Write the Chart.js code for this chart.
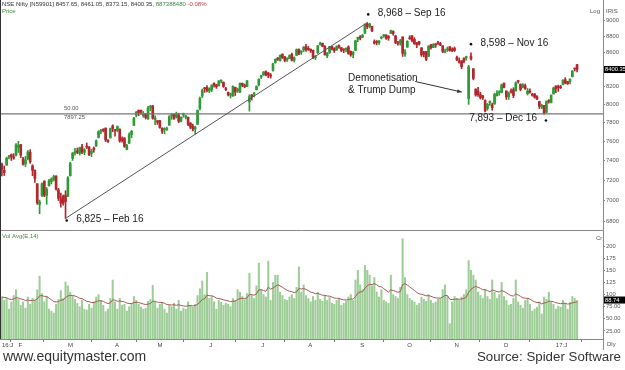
<!DOCTYPE html>
<html>
<head>
<meta charset="utf-8">
<script src="https://cdn.jsdelivr.net/npm/chart.js@4.4.1/dist/chart.umd.min.js"></script>
<style>
  html, body { margin: 0; padding: 0; background: #fff; }
  #wrap { position: relative; width: 625px; height: 370px; overflow: hidden; font-family: 'Liberation Sans', Arial, sans-serif; }
  #priceChart { position: absolute; left: 0; top: 0; }
  #volChart { position: absolute; left: 0; top: 231px; }
  .foot { position: absolute; color: #333; white-space: nowrap; }
</style>
</head>
<body>
<div id="wrap">
  <canvas id="priceChart" width="625" height="231"></canvas>
  <canvas id="volChart" width="625" height="119"></canvas>
  <div class="foot" style="left:3px; top:348px; font-size:14px;">www.equitymaster.com</div>
  <div class="foot" style="right:4px; top:349px; font-size:13.3px;">Source: Spider Software</div>
</div>
<script>
// Nifty daily candles, 20 Jan 2016 .. 13 Jan 2017 (one row per month)
const opens = [
  7358,7298,7352,7434,7460,7432,7455,
  7536,7566,7416,7363,7418,7484,7343,7300,7163,6960,7047,7190,7048,7144,7185,7208,7241,7101,7013,7039,7051,
  7039,7242,7421,7480,7497,7475,7542,7484,7545,7539,7474,7527,7552,7643,7705,7724,7742,7609,7636,7765,
  7718,7718,7729,7618,7635,7514,7580,7673,7771,7883,7935,7937,7876,7895,7841,7970,7985,7833,
  7822,7822,7740,7726,7724,7772,7876,7890,7866,7882,7817,7886,7862,7860,7798,7761,7732,7782,7957,8095,8188,8192,
  8154,8166,8242,8222,8211,8265,8253,8173,8139,8106,8094,8195,8159,8140,8241,8218,8205,8030,8106,8116,8167,8224,
  8313,8339,8376,8360,8336,8390,8484,8535,8505,8579,8552,8514,8531,8579,8509,8566,8640,8607,8633,8673,
  8654,8643,8630,8540,8600,8700,8714,8676,8560,8603,8675,8650,8630,8685,8661,8643,8640,8669,8615,8580,8628,8763,
  8792,8789,8836,8950,8922,8922,8733,8735,8720,8777,8807,8816,8797,8836,8859,8807,8710,8719,8792,8581,
  8666,8770,8806,8761,8721,8735,8658,8600,8616,8556,8697,8661,8704,8718,8710,8683,8607,8633,8672,8634,
  8654,8542,8499,8504,8535,8541,8067,8555,8409,8175,8152,8110,8098,8045,7957,8021,7997,8008,8100,8132,8138,
  8244,8153,8089,8153,8168,8153,8272,8231,8196,8212,8122,8152,8109,8119,8089,8034,7973,7990,7915,8047,8022,8119,
  8210,8196,8202,8227,8282,8260,8262,8318,8408,8457.65
];
const highs = [
  7372,7342,7433,7452,7467,7470,7575,
  7600,7567,7431,7441,7503,7512,7356,7300,7163,7001,7172,7192,7125,7206,7222,7249,7243,7117,7070,7052,7094,
  7236,7380,7483,7527,7529,7538,7569,7523,7582,7545,7514,7541,7614,7713,7728,7735,7742,7618,7742,7777,
  7728,7765,7733,7648,7640,7569,7690,7716,7859,7924,7940,7937,7923,7900,7979,7992,7990,7874,
  7823,7826,7745,7746,7751,7877,7898,7895,7916,7904,7864,7905,7880,7862,7798,7784,7762,7941,8084,8175,8193,8213,
  8190,8225,8246,8229,8272,8280,8256,8194,8140,8130,8212,8196,8185,8247,8243,8232,8273,8110,8114,8137,8212,8292,
  8333,8377,8385,8367,8354,8475,8527,8543,8575,8588,8553,8541,8575,8595,8550,8646,8646,8624,8674,8700,
  8675,8644,8630,8567,8689,8729,8717,8686,8603,8677,8680,8661,8684,8696,8661,8648,8659,8683,8622,8612,8751,8789,
  8808,8824,8953,8968,8960,8925,8755,8747,8746,8800,8820,8816,8809,8877,8867,8807,8738,8761,8792,8637,
  8745,8806,8807,8782,8722,8736,8661,8616,8616,8685,8700,8709,8712,8736,8725,8684,8643,8669,8672,8660,
  8669,8560,8537,8504,8538,8559,8450,8598,8413,8176,8194,8138,8103,8052,8012,8041,8016,8126,8157,8157,8231,
  8244,8153,8141,8178,8190,8257,8275,8233,8238,8233,8181,8176,8126,8123,8101,8037,8003,7990,8042,8055,8110,8197,
  8212,8219,8218,8282,8306,8263,8293,8390,8417,8461.05
];
const lows = [
  7241,7246,7350,7415,7400,7411,7445,
  7482,7428,7350,7337,7406,7370,7244,7177,6960,6869,7035,7035,6961,7140,7161,7191,7098,6997,6933,6952,6825,
  7035,7242,7400,7455,7470,7455,7470,7460,7523,7449,7439,7484,7545,7636,7680,7700,7597,7587,7636,7702,
  7655,7701,7590,7591,7535,7510,7575,7639,7770,7863,7875,7892,7859,7840,7835,7930,7838,7779,
  7781,7740,7683,7680,7717,7772,7836,7836,7850,7800,7809,7859,7840,7767,7734,7710,7678,7782,7940,8078,8137,8142,
  8134,8144,8195,8182,8211,8246,8193,8156,8096,8073,8094,8101,8136,8134,8201,8191,8205,7927,8050,8085,8165,8210,
  8295,8330,8326,8306,8300,8380,8474,8507,8500,8531,8491,8497,8528,8503,8489,8566,8576,8578,8612,8615,
  8627,8602,8530,8518,8590,8690,8671,8570,8540,8590,8634,8602,8630,8651,8613,8600,8609,8580,8557,8540,8625,8733,
  8755,8781,8836,8893,8903,8857,8704,8695,8700,8766,8786,8761,8750,8830,8812,8709,8691,8690,8555,8555,
  8666,8760,8731,8700,8660,8690,8555,8550,8506,8556,8643,8660,8663,8700,8685,8600,8598,8615,8618,8612,
  8614,8504,8475,8410,8477,8511,8002,8510,8280,8094,8091,8061,8056,7917,7937,7990,7936,8001,8095,8103,8131,
  8188,8057,8057,8127,8077,8152,8241,8154,8188,8170,8107,8127,8094,8071,8054,7955,7954,7893,7904,8015,8018,8117,
  8134,8148,8180,8223,8234,8227,8233,8312,8384,8373.15
];
const closes = [
  7309,7276,7422,7436,7437,7425,7563,
  7556,7455,7362,7405,7489,7387,7298,7216,6976,6981,7163,7049,7108,7192,7211,7235,7110,7019,6971,6971,6987,
  7222,7368,7475,7486,7485,7531,7487,7511,7538,7460,7498,7512,7604,7704,7715,7716,7615,7597,7735,7738,
  7713,7758,7603,7614,7546,7555,7671,7708,7850,7914,7912,7913,7899,7855,7962,7979,7848,7850,
  7806,7747,7706,7735,7733,7866,7887,7848,7900,7815,7860,7890,7870,7783,7750,7731,7749,7934,8069,8157,8178,8160,
  8179,8219,8221,8201,8266,8273,8203,8170,8110,8108,8206,8141,8170,8238,8219,8203,8270,8089,8094,8127,8204,8288,
  8328,8371,8336,8337,8323,8467,8521,8519,8565,8541,8508,8528,8565,8510,8541,8635,8590,8615,8666,8639,
  8636,8622,8545,8551,8683,8711,8678,8575,8592,8672,8643,8624,8673,8667,8629,8632,8650,8592,8573,8607,8744,8786,
  8775,8810,8943,8918,8952,8867,8715,8726,8743,8780,8808,8775,8777,8868,8832,8723,8706,8745,8592,8611,
  8738,8769,8744,8709,8697,8708,8573,8583,8520,8678,8659,8699,8693,8709,8691,8615,8615,8638,8625,8626,
  8626,8515,8485,8433,8497,8544,8432,8526,8297,8108,8112,8079,8075,7929,8002,8033,7965,8114,8127,8142,8224,
  8193,8086,8128,8143,8102,8246,8261,8171,8221,8182,8154,8139,8104,8082,8062,7980,7986,7909,8033,8035,8104,8186,
  8180,8192,8191,8274,8244,8236,8289,8381,8407,8400.35
];
// volume in crore shares
const volumes = [
  95,88,92,70,85,98,110,
  90,78,85,72,95,80,92,88,110,138,102,85,96,70,66,62,80,90,108,92,126,
  118,105,98,90,82,75,88,70,68,80,72,85,95,100,88,78,65,70,92,130,
  85,70,92,78,80,66,75,82,96,88,80,74,70,72,86,90,119,84,
  72,80,84,70,62,78,75,82,70,88,66,72,70,85,78,74,80,98,112,128,100,146,
  92,96,85,70,88,84,78,82,80,75,92,88,110,105,96,90,102,144,98,92,118,165,
  110,100,95,169,88,125,140,140,105,98,90,88,95,100,92,115,157,105,120,98,
  92,85,96,88,105,90,86,98,88,95,82,80,88,92,78,82,86,95,100,88,130,150,
  120,110,160,150,140,118,135,105,95,110,88,85,82,140,100,96,92,115,215,135,
  100,92,88,85,78,82,95,90,86,100,88,82,85,90,92,110,120,96,40,85,
  96,92,88,95,100,110,170,150,140,130,105,98,92,110,96,90,130,105,92,100,125,
  96,88,78,80,92,130,85,78,72,88,92,80,66,70,74,85,60,95,90,105,84,80,
  70,76,74,88,82,70,84,96,92,88
];

const monthIdx = [0, 7, 28, 48, 66, 88, 110, 130, 152, 172, 192, 213, 235];
const monthLabels = ['16:J', 'F', 'M', 'A', 'M', 'J', 'J', 'A', 'S', 'O', 'N', 'D', '17:J'];
const priceTicks = [6800, 7000, 7200, 7400, 7600, 7800, 8000, 8200, 8400, 8600, 8800, 9000];
const volTicks = [25, 50, 75, 100, 125, 150, 175, 200];
const volTickLabels = ['25.00', '50.00', '75.00', '100', '125', '150', '175', '200'];

// trend line: Feb-16 low to Sep-16 high, support at 7897.25
const trendIdx = [27, 155];
const trendPrices = [6825, 8968];
const supportLevel = 7897.25;

// callouts (day index, price where the dot sits)
const noteIdx = [27.5, 155.4, 199, 230.8];
const notePrices = [6805, 9072, 8703, 7823];
const noteTexts = ['6,825 \u2013 Feb 16', '8,968 \u2013 Sep 16', '8,598 \u2013 Nov 16', '7,893 \u2013 Dec 16'];
const eventIdx = [175.3, 195.1];
const eventPrices = [8262, 8140];
const eventTexts = ['Demonetisation', '& Trump Dump'];

const headerParts = [
  ['NSE Nifty [N59901] 8457.65, 8461.05, 8373.15, 8400.35, ', '#333'],
  ['887388480 ', '#3b8c3b'],
  ['-0.08%', '#c23a3a']
];
const lastAvgLabel = '88.74';

const FONT = "'Liberation Sans', Arial, sans-serif";
const UP = '#2f9a35';
const DOWN = '#b3262c';
const X_MIN = -0.8, X_MAX = 255;

const candleColors = closes.map((c, i) => c >= opens[i] ? UP : DOWN);
const wicks = closes.map((c, i) => ({ x: i, y: [lows[i], highs[i]] }));
const bodies = closes.map((c, i) => ({ x: i, y: [opens[i], c] }));

// Vol Avg(E,14): exponential average of volume
const volAvg = [];
volumes.forEach((v, i) => {
  const k = 2 / 15;
  volAvg.push(i === 0 ? v : v * k + volAvg[i - 1] * (1 - k));
});

function txt(ctx, s, x, y, color, size, align) {
  ctx.font = size + 'px ' + FONT;
  ctx.fillStyle = color;
  ctx.textAlign = align || 'left';
  ctx.textBaseline = 'middle';
  ctx.fillText(s, x, y);
}

const priceDecor = {
  id: 'priceDecor',
  afterDraw(chart) {
    const ctx = chart.ctx, xs = chart.scales.x, ys = chart.scales.y, a = chart.chartArea;
    ctx.save();
    ctx.lineWidth = 1;
    ctx.strokeStyle = '#8a8a8a';
    ctx.beginPath(); ctx.moveTo(0, a.bottom - 0.5); ctx.lineTo(a.right, a.bottom - 0.5); ctx.stroke();
    ctx.strokeStyle = '#333';
    ctx.beginPath(); ctx.moveTo(0.5, 0); ctx.lineTo(0.5, a.bottom); ctx.stroke();

    // header line
    let hx = 2;
    ctx.font = '6px ' + FONT;
    headerParts.forEach(p => {
      txt(ctx, p[0], hx, 4.5, p[1], 6);
      hx += ctx.measureText(p[0]).width;
    });
    txt(ctx, 'Price', 2, 11.5, '#3b8c3b', 6);
    txt(ctx, 'Log', 590, 11.5, '#555', 6);
    txt(ctx, 'IRIS', 606, 11.5, '#555', 6);

    // support level labels
    const sy = ys.getPixelForValue(supportLevel);
    txt(ctx, '50.00', 64, sy - 5.5, '#555', 5.8);
    txt(ctx, '7897.25', 64, sy + 4, '#555', 5.8);

    // callouts
    noteTexts.forEach((t, i) => {
      const px = xs.getPixelForValue(noteIdx[i]);
      const py = ys.getPixelForValue(notePrices[i]);
      ctx.fillStyle = '#111';
      ctx.beginPath(); ctx.arc(px, py, 1.3, 0, Math.PI * 2); ctx.fill();
      if (i === 3) txt(ctx, t, px - 9, py - 2, '#222', 10, 'right');
      else txt(ctx, t, px + 9.5, py - 1, '#222', 10);
    });

    // event text and arrow
    const ex = xs.getPixelForValue(eventIdx[0]), ey = ys.getPixelForValue(eventPrices[0]);
    const tx = xs.getPixelForValue(eventIdx[1]), ty = ys.getPixelForValue(eventPrices[1]);
    txt(ctx, eventTexts[0], ex - 67, ey - 3.5, '#222', 10);
    txt(ctx, eventTexts[1], ex - 67, ey + 8.5, '#222', 10);
    ctx.strokeStyle = '#333';
    ctx.beginPath(); ctx.moveTo(ex, ey); ctx.lineTo(tx, ty); ctx.stroke();
    const ang = Math.atan2(ty - ey, tx - ex);
    ctx.fillStyle = '#333';
    ctx.beginPath();
    ctx.moveTo(tx, ty);
    ctx.lineTo(tx - 5 * Math.cos(ang - 0.4), ty - 5 * Math.sin(ang - 0.4));
    ctx.lineTo(tx - 5 * Math.cos(ang + 0.4), ty - 5 * Math.sin(ang + 0.4));
    ctx.closePath(); ctx.fill();

    // last price box
    const last = closes[closes.length - 1];
    const ly = ys.getPixelForValue(last);
    ctx.fillStyle = '#000';
    ctx.fillRect(a.right + 1, ly - 3.5, 22, 7);
    txt(ctx, last.toFixed(2), a.right + 2, ly, '#fff', 5.8);
    ctx.restore();
  }
};

new Chart(document.getElementById('priceChart'), {
  type: 'bar',
  data: {
    datasets: [
      {
        type: 'line',
        data: trendIdx.map((v, i) => ({ x: v, y: trendPrices[i] })),
        borderColor: '#555', borderWidth: 1, pointRadius: 0, order: 0
      },
      {
        type: 'line',
        data: [{ x: X_MIN, y: supportLevel }, { x: X_MAX, y: supportLevel }],
        borderColor: '#777', borderWidth: 1.3, pointRadius: 0, order: 0
      },
      {
        data: wicks, backgroundColor: candleColors, barThickness: 1,
        grouped: false, order: 2
      },
      {
        data: bodies, backgroundColor: candleColors, barThickness: 2,
        grouped: false, minBarLength: 1, order: 1
      }
    ]
  },
  options: {
    responsive: false,
    animation: false,
    layout: { padding: 0 },
    plugins: { legend: { display: false }, tooltip: { enabled: false } },
    scales: {
      x: { type: 'linear', min: X_MIN, max: X_MAX, offset: false, display: false },
      y: {
        type: 'logarithmic', position: 'right', min: 6706, max: 9256, bounds: 'data',
        afterBuildTicks: s => { s.ticks = priceTicks.map(v => ({ value: v })); },
        afterFit: s => { s.width = 22; s.paddingTop = 0; s.paddingBottom = 0; },
        ticks: {
          callback: v => String(v), color: '#555', padding: 1,
          font: { size: 5.8, family: FONT }
        },
        grid: { drawOnChartArea: false, drawTicks: true, tickLength: 2, color: '#888' },
        border: { display: true, color: '#888' }
      }
    }
  },
  plugins: [priceDecor]
});

const volDecor = {
  id: 'volDecor',
  afterDraw(chart) {
    const ctx = chart.ctx, ys = chart.scales.y, a = chart.chartArea;
    ctx.save();
    ctx.lineWidth = 1;
    ctx.strokeStyle = '#333';
    ctx.beginPath(); ctx.moveTo(0.5, 0); ctx.lineTo(0.5, a.bottom); ctx.stroke();
    ctx.strokeStyle = '#888';
    ctx.beginPath(); ctx.moveTo(a.right + 0.5, a.bottom); ctx.lineTo(a.right + 0.5, chart.height); ctx.stroke();
    txt(ctx, 'Vol Avg(E,14)', 2, 5.5, '#3b8c3b', 6);
    txt(ctx, 'Cr', 596, 7, '#555', 6);
    txt(ctx, 'Dly', 607, a.bottom + 5, '#555', 6);
    const ly = ys.getPixelForValue(parseFloat(lastAvgLabel));
    ctx.fillStyle = '#000';
    ctx.fillRect(a.right + 1, ly - 3.5, 22, 7);
    txt(ctx, lastAvgLabel, a.right + 2, ly, '#fff', 5.8);
    ctx.restore();
  }
};

new Chart(document.getElementById('volChart'), {
  type: 'bar',
  data: {
    datasets: [
      {
        type: 'line',
        data: volAvg.map((v, i) => ({ x: i, y: v })),
        borderColor: '#a35a55', borderWidth: 1, pointRadius: 0, order: 0
      },
      {
        data: volumes.map((v, i) => ({ x: i, y: v })),
        backgroundColor: '#9fcd98', barThickness: 1.4, order: 1
      }
    ]
  },
  options: {
    responsive: false,
    animation: false,
    layout: { padding: 0 },
    plugins: { legend: { display: false }, tooltip: { enabled: false } },
    scales: {
      x: {
        type: 'linear', min: X_MIN, max: X_MAX, offset: false,
        afterBuildTicks: s => { s.ticks = monthIdx.map(v => ({ value: v })); },
        afterFit: s => { s.height = 11; s.paddingLeft = 0; s.paddingRight = 0; },
        ticks: {
          autoSkip: false, maxRotation: 0, align: 'start', padding: 0,
          callback: (v, i) => monthLabels[i], color: '#444',
          font: { size: 6, family: FONT }
        },
        grid: { drawOnChartArea: false, drawTicks: true, tickLength: 3, color: '#777' },
        border: { display: true, color: '#888' }
      },
      y: {
        type: 'linear', position: 'right', min: 8.5, max: 230.9,
        afterBuildTicks: s => { s.ticks = volTicks.map(v => ({ value: v })); },
        afterFit: s => { s.width = 22; s.paddingTop = 0; s.paddingBottom = 0; },
        ticks: {
          callback: (v, i) => volTickLabels[i], color: '#555', padding: 1,
          font: { size: 5.8, family: FONT }
        },
        grid: { drawOnChartArea: false, drawTicks: true, tickLength: 2, color: '#888' },
        border: { display: true, color: '#888' }
      }
    }
  },
  plugins: [volDecor]
});
</script>
</body>
</html>
